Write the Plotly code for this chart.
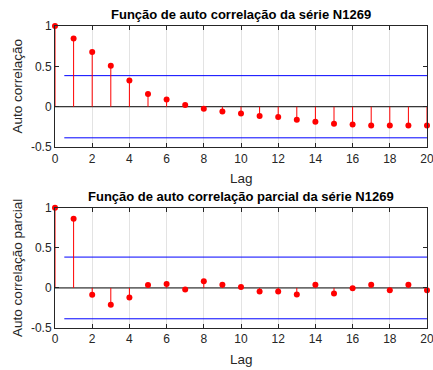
import plotly.graph_objects as go

lags = list(range(21))
acf = [1.0, 0.846, 0.678, 0.508, 0.326, 0.157, 0.09, 0.02, -0.025, -0.058, -0.083,
       -0.115, -0.128, -0.161, -0.186, -0.21, -0.219, -0.231, -0.231, -0.231, -0.231]
pacf = [1.0, 0.864, -0.086, -0.21, -0.12, 0.037, 0.049, -0.021, 0.082, 0.04, 0.012,
        -0.045, -0.045, -0.082, 0.04, -0.07, -0.004, 0.04, -0.029, 0.04, -0.029]
conf = 0.385
titles = ["Função de auto correlação da série N1269",
          "Função de auto correlação parcial da série N1269"]
ylabels = ["Auto correlação", "Auto correlação parcial"]
xticks = list(range(0, 21, 2))
yticks = [-0.5, 0, 0.5, 1]
yticktext = ["-0.5", "0", "0.5", "1"]

fig = go.Figure()
FONT = "Liberation Sans, Arial, sans-serif"

for i, vals in enumerate([acf, pacf]):
    xa = "x" if i == 0 else "x2"
    ya = "y" if i == 0 else "y2"
    sx, sy = [], []
    for l, v in zip(lags, vals):
        sx += [l, l, None]
        sy += [0, v, None]
    fig.add_trace(go.Scatter(x=[0, 20], y=[0, 0], mode="lines",
                             line=dict(color="#000000", width=1),
                             xaxis=xa, yaxis=ya, showlegend=False, hoverinfo="skip"))
    fig.add_trace(go.Scatter(x=[0.5, 20], y=[conf, conf], mode="lines",
                             line=dict(color="#0000ff", width=1),
                             xaxis=xa, yaxis=ya, showlegend=False))
    fig.add_trace(go.Scatter(x=[0.5, 20], y=[-conf, -conf], mode="lines",
                             line=dict(color="#0000ff", width=1),
                             xaxis=xa, yaxis=ya, showlegend=False))
    fig.add_trace(go.Scatter(x=sx, y=sy, mode="lines",
                             line=dict(color="#ff0000", width=1),
                             xaxis=xa, yaxis=ya, showlegend=False))
    fig.add_trace(go.Scatter(x=lags, y=vals, mode="markers",
                             marker=dict(color="#ff0000", size=6),
                             xaxis=xa, yaxis=ya, showlegend=False, cliponaxis=False))

axis_common = dict(showline=True, linecolor="#262626", linewidth=1, mirror="allticks",
                   ticks="inside", ticklen=4, tickcolor="#262626", automargin=False,
                   gridcolor="#e3e3e3", zeroline=False, ticklabeloverflow="allow",
                   tickfont=dict(family=FONT, size=12, color="#262626"))

fig.update_layout(
    width=433, height=370, autosize=False,
    margin=dict(l=55, r=6, t=26, b=42, autoexpand=False),
    plot_bgcolor="white", paper_bgcolor="white",
    font=dict(family=FONT, color="#262626"),
    xaxis=dict(domain=[0, 1], range=[0, 20], tickvals=xticks, anchor="y",
               showgrid=True, **axis_common),
    yaxis=dict(domain=[0.599, 1], range=[-0.5, 1], tickvals=yticks, ticktext=yticktext,
               anchor="x", showgrid=False, **axis_common),
    xaxis2=dict(domain=[0, 1], range=[0, 20], tickvals=xticks, anchor="y2",
                showgrid=True, **axis_common),
    yaxis2=dict(domain=[0, 0.398], range=[-0.5, 1], tickvals=yticks, ticktext=yticktext,
                anchor="x2", showgrid=False, **axis_common),
)

for i, (ttl, yl) in enumerate(zip(titles, ylabels)):
    top = 1.0 if i == 0 else 0.398
    bot = 0.599 if i == 0 else 0.0
    fig.add_annotation(text="<b>" + ttl + "</b>", xref="paper", yref="paper",
                       x=0.5, y=top, yshift=2, xanchor="center", yanchor="bottom",
                       showarrow=False, font=dict(family=FONT, size=13, color="#000000"))
    fig.add_annotation(text=yl, xref="paper", yref="paper", x=0, xshift=-37,
                       y=(top + bot) / 2, textangle=-90, xanchor="center", yanchor="middle",
                       showarrow=False, font=dict(family=FONT, size=13.5, color="#262626"))
    fig.add_annotation(text="Lag", xref="paper", yref="paper", x=0.5, y=bot, yshift=-22,
                       xanchor="center", yanchor="top",
                       showarrow=False, font=dict(family=FONT, size=13.5, color="#262626"))

fig.write_html("out.html", config={"displayModeBar": False, "responsive": False},
               post_script="document.body.style.margin='0';")
